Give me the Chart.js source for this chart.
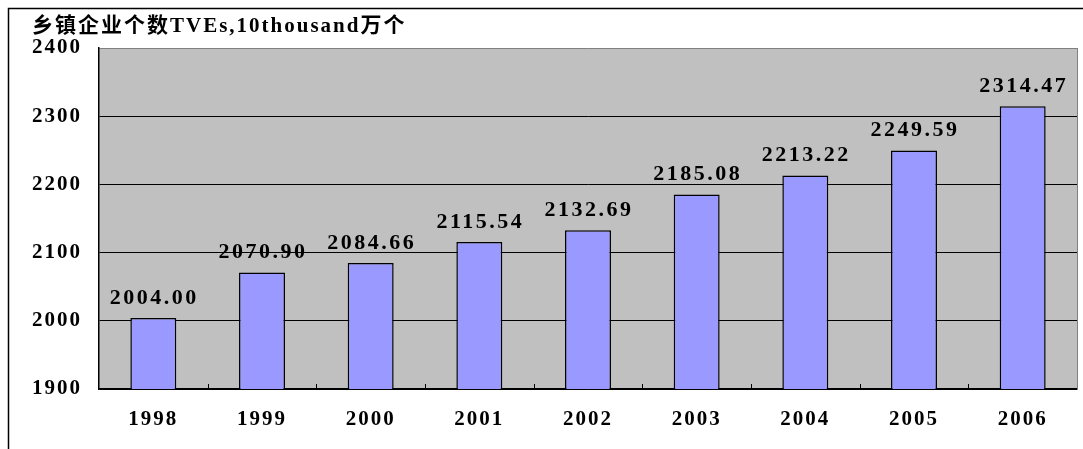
<!DOCTYPE html>
<html><head><meta charset="utf-8">
<script src="https://cdn.jsdelivr.net/npm/chart.js@4"></script>
<style>html,body{margin:0;padding:0;background:#fff}#wrap{width:1083px;height:449px}</style>
</head><body><div id="wrap"><canvas id="c" width="1083" height="449"></canvas></div>
<script>
const years = ['1998','1999','2000','2001','2002','2003','2004','2005','2006'];
const tves = [2004.00, 2070.90, 2084.66, 2115.54, 2132.69, 2185.08, 2213.22, 2249.59, 2314.47];
const yTicks = [1900, 2000, 2100, 2200, 2300, 2400];
const titleText = '乡镇企业个数TVEs,10thousand万个';

const FONT = '"Liberation Serif", "Noto Sans CJK SC", serif';

const decor = {
  id: 'decor',
  beforeInit(chart) { chart.ctx.letterSpacing = '2px'; },
  beforeUpdate(chart) { chart.ctx.letterSpacing = '2px'; },
  beforeDraw(chart) {
    const {ctx, chartArea: a} = chart;
    ctx.letterSpacing = '2px';
    ctx.save();
    ctx.fillStyle = '#C0C0C0';
    ctx.fillRect(a.left, a.top, a.right - a.left, a.bottom - a.top);
    ctx.strokeStyle = '#000';
    ctx.lineWidth = 1.5;
    ctx.beginPath();
    ctx.moveTo(8.5, 449);
    ctx.lineTo(8.5, 8.5);
    ctx.lineTo(1083, 8.5);
    ctx.stroke();
    ctx.fillStyle = '#000';
    ctx.font = 'bold 21px ' + FONT;
    ctx.textBaseline = 'middle';
    ctx.textAlign = 'left';
    ctx.letterSpacing = '2px';
    ctx.fillText(titleText, 32, 27);
    ctx.restore();
  },
  afterDatasetsDraw(chart) {
    const {ctx, chartArea: a} = chart;
    const xs = chart.scales.x;
    ctx.save();
    ctx.strokeStyle = '#000';
    ctx.lineWidth = 1;
    ctx.beginPath();
    for (let i = 0; i < years.length - 1; i++) {
      const x = Math.round((xs.getPixelForValue(i) + xs.getPixelForValue(i + 1)) / 2) + 0.5;
      ctx.moveTo(x, a.bottom);
      ctx.lineTo(x, a.bottom - 5);
    }
    ctx.stroke();
    ctx.strokeStyle = '#808080';
    ctx.beginPath();
    ctx.moveTo(a.right + 0.5, a.top);
    ctx.lineTo(a.right + 0.5, a.bottom);
    ctx.stroke();
    ctx.fillStyle = '#000';
    ctx.font = 'bold 22px ' + FONT;
    ctx.textAlign = 'center';
    ctx.textBaseline = 'middle';
    ctx.letterSpacing = '2.5px';
    const meta = chart.getDatasetMeta(0);
    meta.data.forEach((bar, i) => {
      ctx.fillText(tves[i].toFixed(2), bar.x + 1, bar.y - 20);
    });
    ctx.restore();
  }
};

new Chart(document.getElementById('c'), {
  type: 'bar',
  data: {
    labels: years,
    datasets: [{
      data: tves,
      backgroundColor: '#9999FF',
      borderColor: '#000',
      borderWidth: 1.5,
      barPercentage: 0.423,
      categoryPercentage: 1
    }]
  },
  options: {
    responsive: false,
    animation: false,
    events: [],
    layout: { padding: { top: 48, right: 6, left: 0, bottom: 0 } },
    plugins: { legend: { display: false }, title: { display: false }, tooltip: { enabled: false } },
    scales: {
      x: {
        offset: true,
        grid: { display: false, drawTicks: false },
        border: { display: true, color: '#000', width: 1.5 },
        ticks: { color: '#000', font: { family: FONT, size: 21, weight: 'bold' }, padding: 18, maxRotation: 0 },
        afterFit(s) { s.height = 60; }
      },
      y: {
        min: 1900, max: 2400,
        afterBuildTicks(s) { s.ticks = yTicks.map(v => ({ value: v })); },
        grid: {
          drawTicks: false,
          color: ctx => (ctx.tick && ctx.tick.value === 2400) ? '#808080' : '#000',
          lineWidth: 1
        },
        border: { display: true, color: '#000', width: 1.5 },
        ticks: { color: '#000', font: { family: FONT, size: 21, weight: 'bold' }, padding: 17, callback: v => String(v) },
        afterFit(s) { s.width = 99; }
      }
    }
  },
  plugins: [decor]
});
</script></body></html>
